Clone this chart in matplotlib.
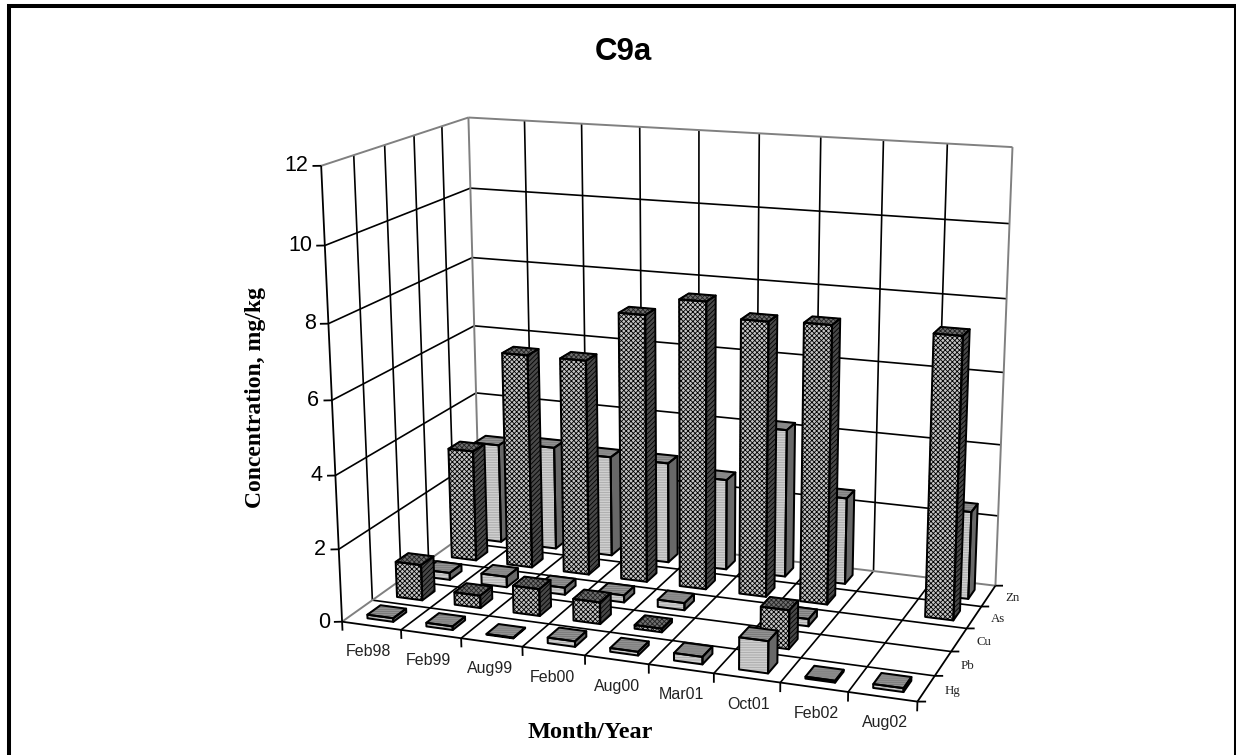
import numpy
import matplotlib
matplotlib.use('Agg')
import matplotlib.pyplot as plt
from matplotlib.lines import Line2D
from mpl_toolkits.mplot3d import proj3d
from mpl_toolkits.mplot3d.art3d import Line3DCollection, Poly3DCollection

months = ['Feb98', 'Feb99', 'Aug99', 'Feb00', 'Aug00', 'Mar01', 'Oct01', 'Feb02', 'Aug02']
metals = ['Hg', 'Pb', 'Cu', 'As', 'Zn']
z_ticks = [0, 2, 4, 6, 8, 10, 12]

nan = float('nan')
hg = [0.1, 0.1, 0.02, 0.15, 0.1, 0.2, 0.85, 0.05, 0.1]
pb = [1.0, 0.35, 0.75, 0.6, 0.1, nan, 1.05, nan, nan]
cu = [0.2, 0.3, 0.2, 0.2, 0.2, nan, 0.2, nan, nan]
as_ = [3.2, 6.1, 6.1, 7.5, 8.0, 7.6, 7.65, nan, 7.65]
zn = [2.9, 3.0, 2.9, 2.9, 2.6, 4.2, 2.45, nan, 2.45]
series = [hg, pb, cu, as_, zn]

# (x, y, z) of the chart box against where it sits on the 1236x755 picture
box_points = [(0, 0, 0), (0, 0, 6), (0, 0, 12), (0, 5, 0), (0, 5, 6), (0, 5, 12),
              (9, 5, 0), (9, 5, 10), (9, 5, 12), (9, 0, 0), (4, 0, 0), (9, 1, 0)]
box_pixels = [(341.7, 621.7), (331.7, 400), (321.7, 166), (481, 524), (473, 325), (468.3, 118),
              (995, 586), (1009, 223.3), (1013.3, 147.3), (917.3, 701), (585, 656), (935, 676)]

BAR = 0.44
GREY = '#808080'

# front, side, top: fill colour, hatch, hatch colour
DARK = [('#c4c4c4', 'xxxxxxx', '#000000'), ('#484848', '///////', '#000000'), ('#707070', 'xxxxxxx', '#222222')]
LIGHT = [('#dcdcdc', '----------', '#a8a8a8'), ('#686868', None, '#686868'), ('#949494', '--------', '#777777')]
styles = [LIGHT, DARK, LIGHT, DARK, LIGHT]


def fit_camera(points, pixels):
    a, b = [], []
    for (x, y, z), (u, v) in zip(points, pixels):
        a.append([x, y, z, 1, 0, 0, 0, 0, -u*x, -u*y, -u*z])
        a.append([0, 0, 0, 0, x, y, z, 1, -v*x, -v*y, -v*z])
        b += [u, v]
    p = numpy.linalg.lstsq(numpy.array(a, float), numpy.array(b, float), rcond=None)[0]
    return numpy.array([p[:4], p[4:8], [0, 0, 0, -1], [p[8], p[9], p[10], 1.]])


def add_bar(ax, x0, y0, h, style, order):
    x1, y1 = x0 + BAR, y0 + BAR
    faces = [
        [(x0, y0, 0), (x1, y0, 0), (x1, y0, h), (x0, y0, h)],
        [(x1, y0, 0), (x1, y1, 0), (x1, y1, h), (x1, y0, h)],
        [(x0, y0, h), (x1, y0, h), (x1, y1, h), (x0, y1, h)],
    ]
    for face, (fill, hatch, hatch_col) in zip(faces, style):
        ax.add_collection3d(Poly3DCollection(
            [face], facecolors=fill, edgecolors=hatch_col, hatch=hatch,
            linewidths=0, zorder=order), autolim=False)
        ax.add_collection3d(Poly3DCollection(
            [face], facecolors=(0, 0, 0, 0), edgecolors='k',
            linewidths=1.45, zorder=order + 0.5), autolim=False)


def line3(ax, xs, ys, zs, color='k', lw=1.2):
    pts = list(zip(xs, ys, zs))
    segs = [[pts[k], pts[k + 1]] for k in range(len(pts) - 1)]
    ax.add_collection3d(Line3DCollection(segs, colors=color, linewidths=lw, zorder=2), autolim=False)


def label3(ax, x, y, z, s, **kwargs):
    u, v, _ = proj3d.proj_transform(x, y, z, M)
    ax.text2D(u, v, s, transform=ax.transData, va='center', zorder=5, **kwargs)


plt.rcParams['hatch.linewidth'] = 0.6

fig = plt.figure(figsize=(12.36, 7.55), dpi=100)
ax = fig.add_axes([0, 0, 1, 1], projection='3d')
ax.set_axis_off()
ax.computed_zorder = False
M = fit_camera(box_points, box_pixels)
ax.get_proj = lambda: M
ax.apply_aspect = lambda position=None: None
ax._viewLim.set_points(numpy.array([[0., 755.], [1236., 0.]]))

n_x, n_y = len(months), len(metals)

# walls and floor
for z in z_ticks[1:-1]:
    line3(ax, [0, 0, n_x], [0, n_y, n_y], [z, z, z])
for i in range(1, n_x):
    line3(ax, [i, i, i], [0, n_y, n_y], [0, 0, 12])
for j in range(1, n_y):
    line3(ax, [0, 0], [j, j], [0, 12])
    line3(ax, [0, n_x], [j, j], [0, 0])
line3(ax, [0, 0], [n_y, n_y], [0, 12], GREY, 1.4)
line3(ax, [n_x, n_x], [n_y, n_y], [0, 12], GREY, 1.4)
line3(ax, [0, 0, n_x], [0, n_y, n_y], [12, 12, 12], GREY, 1.4)
line3(ax, [0, 0, n_x], [0, n_y, n_y], [0, 0, 0], GREY, 1.4)

# axes and ticks
line3(ax, [0, 0], [0, 0], [0, 12], lw=1.3)
line3(ax, [0, n_x, n_x], [0, 0, n_y], [0, 0, 0], lw=1.3)
for z in z_ticks:
    line3(ax, [-0.113, 0], [-0.051, 0], [z, z], lw=1.3)
    label3(ax, -0.17, -0.077, z, str(z), ha='right', fontsize=15.5, family='Liberation Sans')
for i in range(n_x + 1):
    line3(ax, [i, i], [0, 0], [-0.25, 0], lw=1.3)
for j in range(n_y + 1):
    line3(ax, [n_x, n_x + 0.113], [j, j + 0.042], [0, 0], lw=1.3)

for i, month in enumerate(months):
    label3(ax, i + 0.95 - 0.022*i, -0.97 + 0.012*i, 0, month, ha='center', fontsize=11.5,
           family='Liberation Sans', color='#222222')
for j, metal in enumerate(metals):
    label3(ax, n_x + 0.26, j + 0.51, 0, metal, ha='left', fontsize=9.3,
           family='Liberation Serif', color='#222222')

# back row first, left to right inside a row
order = 10
for j in range(n_y - 1, -1, -1):
    for i in range(n_x):
        value = series[j][i]
        if numpy.isnan(value):
            continue
        add_bar(ax, i + (1 - BAR)/2, j + (1 - BAR)/2, value, styles[j], order)
        order += 1

fig.text(623/1236, 1 - 52/755, 'C9a', ha='center', va='center', fontsize=22.5, weight='bold',
         family='Liberation Sans')
fig.text(255/1236, 1 - 397.5/755, 'Concentration, mg/kg', ha='center', va='center', rotation=90,
         fontsize=17, weight='bold', family='Liberation Serif')
fig.text(590.5/1236, 1 - 733/755, 'Month/Year', ha='center', va='center', fontsize=17.5,
         weight='bold', family='Liberation Serif')

# picture frame, open at the bottom
fig.add_artist(Line2D([9/1236, 9/1236, 1235.5/1236, 1235.5/1236],
                      [0, 1 - 6/755, 1 - 6/755, 0], color='k', lw=2.9,
                      solid_joinstyle='miter'))

plt.savefig('out.png', dpi=100)
